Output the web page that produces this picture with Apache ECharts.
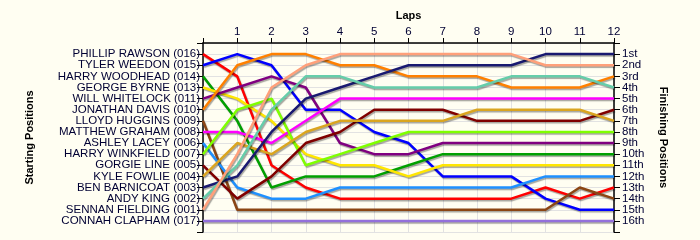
<!DOCTYPE html>
<html><head><meta charset="utf-8">
<script src="https://cdn.jsdelivr.net/npm/echarts@6/dist/echarts.min.js"></script>
<style>html,body{margin:0;padding:0;background:#FFFEF2;}#c{width:700px;height:240px;}</style>
</head><body><div id="c"></div>
<script>
const laps = [0,1,2,3,4,5,6,7,8,9,10,11,12];
const lapLabels = ['', '1','2','3','4','5','6','7','8','9','10','11','12'];
const startLabels = ['PHILLIP RAWSON (016)','TYLER WEEDON (015)','HARRY WOODHEAD (014)','GEORGE BYRNE (013)','WILL WHITELOCK (011)','JONATHAN DAVIS (010)','LLOYD HUGGINS (009)','MATTHEW GRAHAM (008)','ASHLEY LACEY (006)','HARRY WINKFIELD (007)','GORGIE LINE (005)','KYLE FOWLIE (004)','BEN BARNICOAT (003)','ANDY KING (002)','SENNAN FIELDING (001)','CONNAH CLAPHAM (017)'];
const finishLabels = ['1st','2nd','3rd','4th','5th','6th','7th','8th','9th','10th','11th','12th','13th','14th','15th','16th'];

const posRawson     = [1,3,11,13,14,14,14,14,14,14,13,14,13];
const posWeedon     = [2,1,2,6,6,8,9,12,12,12,14,15,15];
const posWoodhead   = [3,7,13,12,12,12,11,10,10,10,10,10,10];
const posByrne      = [4,5,7,10,11,11,12,11,11,11,11,11,11];
const posWhitelock  = [5,4,3,4,9,10,10,9,9,9,9,9,9];
const posDavis      = [6,2,1,1,2,2,3,3,3,4,4,4,3];
const posHuggins    = [7,15,15,15,15,15,15,15,15,15,15,13,14];
const posGraham     = [8,8,9,7,5,5,5,5,5,5,5,5,5];
const posLacey      = [9,13,14,14,13,13,13,13,13,13,12,12,12];
const posWinkfield  = [10,6,5,11,10,9,8,8,8,8,8,8,8];
const posLine       = [11,14,12,9,8,6,6,6,7,7,7,7,6];
const posFowlie     = [12,9,10,8,7,7,7,7,6,6,6,6,7];
const posBarnicoat  = [13,12,8,5,4,3,2,2,2,2,1,1,1];
const posKing       = [14,11,6,3,3,4,4,4,4,3,3,3,4];
const posFielding   = [15,10,4,2,1,1,1,1,1,1,2,2,2];
const posClapham    = [16,16,16,16,16,16,16,16,16,16,16,16,16];

const driverPositions = [posRawson,posWeedon,posWoodhead,posByrne,posWhitelock,posDavis,posHuggins,posGraham,posLacey,posWinkfield,posLine,posFowlie,posBarnicoat,posKing,posFielding,posClapham];
const colors = ['#FF0000','#0000FF','#00A000','#FFE600','#800080','#FF8000','#8B4513','#FF00FF','#1E90FF','#7FFF00','#800000','#DAA520','#191970','#66CDAA','#FFA07A','#9370DB'];

const txt = '#000033';
const FONT = 'Liberation Sans, Arial';
const series = driverPositions.map((p,i)=>({
  type:'line', name:startLabels[i], data: laps.map((l,j)=>[l,p[j]]),
  symbol:'none', smooth:false, silent:true,
  lineStyle:{color:colors[i], width:2.5, shadowColor:'rgba(0,0,0,0.35)', shadowBlur:1, shadowOffsetX:1, shadowOffsetY:1.5},
  z: 2 + i
}));

const chart = echarts.init(document.getElementById('c'));
chart.setOption({
  animation:false,
  backgroundColor:'#FFFEF2',
  grid:{left:203, right:86, top:43, bottom:8, containLabel:false},
  xAxis:{type:'value', position:'top', min:0, max:12, interval:1,
    name:'Laps', nameLocation:'middle', nameGap:22,
    nameTextStyle:{fontFamily:FONT, fontSize:11, fontWeight:'bold', color:'#000'},
    axisLine:{show:true, lineStyle:{color:'#000', width:1.5}},
    axisTick:{show:true, inside:false, length:5, lineStyle:{color:'#000'}},
    axisLabel:{fontFamily:FONT, fontSize:11.5, color:txt, margin:5, formatter:v=>lapLabels[v]||''},
    splitLine:{show:true, lineStyle:{color:'#E2E2E2', width:1}}
  },
  yAxis:[
    {type:'value', position:'left', min:0, max:17, interval:1, inverse:true,
     name:'Starting Positions', nameLocation:'middle', nameGap:168, nameRotate:90,
     nameTextStyle:{fontFamily:FONT, fontSize:11, fontWeight:'bold', color:'#000'},
     axisLine:{show:true, onZero:false, lineStyle:{color:'#000', width:1.5}},
     axisTick:{show:true, length:6, lineStyle:{color:'#000'}},
     axisLabel:{fontFamily:FONT, fontSize:11.5, color:txt, margin:3, formatter:v=>startLabels[v-1]||''},
     splitLine:{show:true, lineStyle:{color:'#E2E2E2', width:1}}
    },
    {type:'value', position:'right', min:0, max:17, interval:1, inverse:true,
     name:'Finishing Positions', nameLocation:'middle', nameGap:44, nameRotate:-90,
     nameTextStyle:{fontFamily:FONT, fontSize:11, fontWeight:'bold', color:'#000'},
     axisLine:{show:true, onZero:false, lineStyle:{color:'#000', width:1.5}},
     axisTick:{show:true, inside:false, length:6, lineStyle:{color:'#000'}},
     axisLabel:{fontFamily:FONT, fontSize:11.5, color:txt, margin:8, formatter:v=>finishLabels[v-1]||''},
     splitLine:{show:false}
    }
  ],
  series: series
});
</script></body></html>
